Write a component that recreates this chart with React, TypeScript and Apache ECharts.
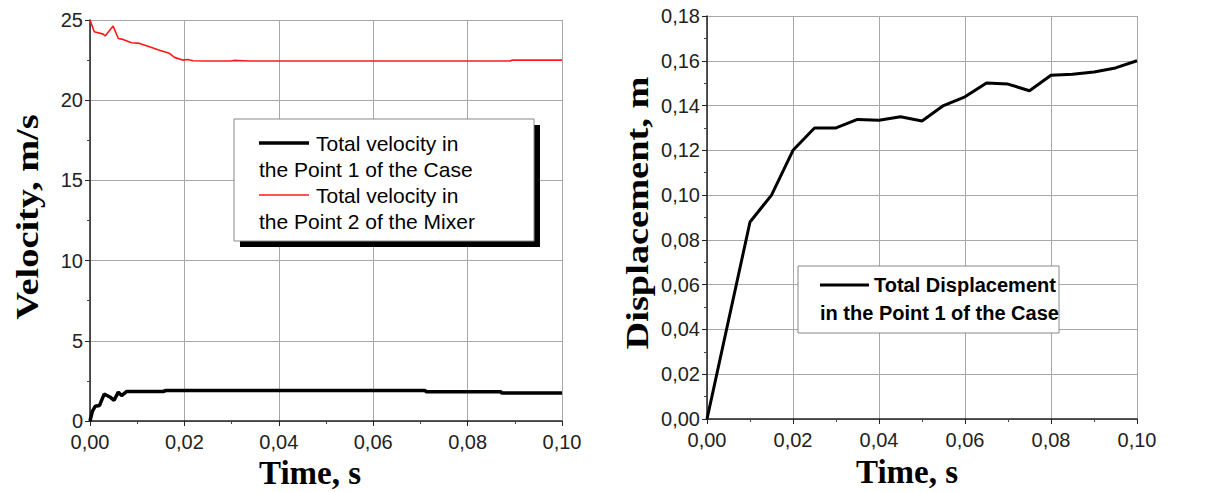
import React, { useEffect, useRef } from "react";
import * as echarts from "echarts";

// Left chart: Total velocity in the Point 1 of the Case (black)
const p1Time = [0, 0.0005, 0.0011, 0.002, 0.003, 0.0042, 0.0051, 0.006, 0.0067, 0.0078, 0.0155, 0.0161, 0.071, 0.0712, 0.087, 0.0872, 0.1];
const p1Vel = [0, 0.6, 0.92, 0.96, 1.68, 1.5, 1.29, 1.8, 1.58, 1.84, 1.84, 1.9, 1.9, 1.83, 1.83, 1.75, 1.75];

// Left chart: Total velocity in the Point 2 of the Mixer (red)
const p2Time = [0, 0.0009, 0.0028, 0.0032, 0.0049, 0.006, 0.007, 0.0088, 0.0105, 0.0126, 0.0147, 0.0168, 0.0179, 0.0196, 0.0207, 0.0218, 0.024, 0.0298, 0.0305, 0.0335, 0.034, 0.089, 0.0895, 0.1];
const p2Vel = [25, 24.27, 24.12, 24.0, 24.62, 23.85, 23.79, 23.58, 23.54, 23.33, 23.12, 22.92, 22.67, 22.5, 22.54, 22.46, 22.44, 22.44, 22.48, 22.44, 22.44, 22.44, 22.5, 22.5];

// Right chart: Total Displacement in the Point 1 of the Case
const dispTime = [0, 0.01, 0.015, 0.02, 0.025, 0.03, 0.035, 0.04, 0.045, 0.05, 0.055, 0.06, 0.065, 0.07, 0.075, 0.08, 0.085, 0.09, 0.095, 0.1];
const dispVal = [0, 0.088, 0.1, 0.12, 0.13, 0.13, 0.1338, 0.1334, 0.135, 0.1331, 0.14, 0.1439, 0.1501, 0.1496, 0.1466, 0.1535, 0.154, 0.155, 0.1568, 0.16];

const timeTicks = { min: 0, max: 0.1, interval: 0.02 };
const velTicks = { min: 0, max: 25, interval: 5 };
const dispTicks = { min: 0, max: 0.18, interval: 0.02 };

const legendVel = ["Total velocity in", "the Point 1 of the Case", "Total velocity in", "the Point 2 of the Mixer"];
const legendDisp = ["Total Displacement", "in the Point 1 of the Case"];

const pairs = (xs: number[], ys: number[]) => xs.map((x, i) => [x, ys[i]]);
const comma2 = (v: number) => v.toFixed(2).replace(".", ",");

const labelFont = "Liberation Sans";
const gridColor = "#a8a8a8";

function makeXAxis(gridIndex: number) {
  return {
    type: "value",
    gridIndex,
    ...timeTicks,
    axisLine: { show: true, onZero: false, lineStyle: { color: "#222", width: 1.5 } },
    axisTick: { show: true, length: 5, lineStyle: { color: "#222" } },
    minorTick: { show: true, splitNumber: 2, length: 3, lineStyle: { color: "#444" } },
    splitLine: { show: true, lineStyle: { color: gridColor, width: 1 } },
    axisLabel: { formatter: comma2, fontFamily: labelFont, fontSize: 20, color: "#222", margin: 11 },
  };
}

function makeYAxis(gridIndex: number, ticks: any, fmt: (v: number) => string) {
  return {
    type: "value",
    gridIndex,
    ...ticks,
    axisLine: { show: true, onZero: false, lineStyle: { color: "#222", width: 1.5 } },
    axisTick: { show: true, length: 5, lineStyle: { color: "#222" } },
    minorTick: { show: true, splitNumber: 2, length: 3, lineStyle: { color: "#444" } },
    splitLine: { show: true, lineStyle: { color: gridColor, width: 1 } },
    axisLabel: { formatter: fmt, fontFamily: labelFont, fontSize: 20, color: "#222", margin: 7 },
  };
}

function vText(text: string, x: number, y: number) {
  return {
    type: "text",
    z: 100,
    x,
    y,
    rotation: Math.PI / 2,
    scaleX: 1.2,
    style: {
      text,
      font: 'bold 32px "Liberation Serif"',
      fill: "#000",
      align: "center",
      verticalAlign: "middle",
      textAlign: "center",
      textVerticalAlign: "middle",
    },
  };
}

function hText(text: string, x: number, y: number, font: string, align = "left", lineHeight?: number) {
  return {
    type: "text",
    z: 100,
    x,
    y,
    style: {
      text,
      font,
      fill: "#000",
      align,
      verticalAlign: "middle",
      textAlign: align,
      textVerticalAlign: "middle",
      ...(lineHeight ? { lineHeight } : {}),
    },
  };
}

export default function App() {
  const ref = useRef<HTMLDivElement>(null);
  useEffect(() => {
    if (!ref.current) return;
    const chart = echarts.init(ref.current, undefined, { renderer: "svg" });
    const legFont = '21px "Liberation Sans"';
    const legFontB = 'bold 20px "Liberation Sans"';
    chart.setOption({
      animation: false,
      backgroundColor: "#fff",
      grid: [
        { left: 90, top: 20, width: 472, height: 401 },
        { left: 707, top: 16, width: 430, height: 403 },
      ],
      xAxis: [makeXAxis(0), makeXAxis(1)],
      yAxis: [
        makeYAxis(0, velTicks, (v: number) => String(v)),
        makeYAxis(1, dispTicks, comma2),
      ],
      series: [
        {
          type: "line",
          name: "Point 2 of the Mixer",
          xAxisIndex: 0,
          yAxisIndex: 0,
          data: pairs(p2Time, p2Vel),
          showSymbol: false,
          lineStyle: { color: "#ff1a1a", width: 1.6 },
        },
        {
          type: "line",
          name: "Point 1 of the Case",
          xAxisIndex: 0,
          yAxisIndex: 0,
          data: pairs(p1Time, p1Vel),
          showSymbol: false,
          lineStyle: { color: "#000", width: 3.5 },
        },
        {
          type: "line",
          name: "Total Displacement",
          xAxisIndex: 1,
          yAxisIndex: 1,
          data: pairs(dispTime, dispVal),
          showSymbol: false,
          lineStyle: { color: "#000", width: 3 },
        },
      ],
      graphic: [
        vText("Velocity, m/s", 28, 217),
        vText("Displacement, m", 638, 213),
        hText("Time, s", 310, 473, 'bold 33px "Liberation Serif"', "center", 28),
        hText("Time, s", 907, 472, 'bold 33px "Liberation Serif"', "center", 28),
        // left legend
        { type: "rect", z: 100, shape: { x: 240, y: 125, width: 300, height: 122 }, style: { fill: "#000" } },
        { type: "rect", z: 101, shape: { x: 234, y: 119, width: 300, height: 122 }, style: { fill: "#fff", stroke: "#888", lineWidth: 1 } },
        { type: "line", z: 102, shape: { x1: 259, y1: 143, x2: 309, y2: 143 }, style: { stroke: "#000", lineWidth: 3.5 } },
        { type: "line", z: 102, shape: { x1: 259, y1: 195, x2: 309, y2: 195 }, style: { stroke: "#ff1a1a", lineWidth: 1.6 } },
        { ...hText(legendVel[0], 316, 143, legFont), z: 102 },
        { ...hText(legendVel[1], 259, 169, legFont), z: 102 },
        { ...hText(legendVel[2], 316, 195, legFont), z: 102 },
        { ...hText(legendVel[3], 259, 221, legFont), z: 102 },
        // right legend
        { type: "rect", z: 101, shape: { x: 798, y: 266, width: 261, height: 67 }, style: { fill: "#fff", stroke: "#888", lineWidth: 1 } },
        { type: "line", z: 102, shape: { x1: 820, y1: 285, x2: 869, y2: 285 }, style: { stroke: "#000", lineWidth: 3 } },
        { ...hText(legendDisp[0], 874, 285, legFontB), z: 102 },
        { ...hText(legendDisp[1], 820, 313, legFontB), z: 102 },
      ],
    });
    return () => chart.dispose();
  }, []);
  return (
    <div
      ref={ref}
      style={{ position: "fixed", left: 0, top: 0, width: 1217, height: 492, background: "#fff" }}
    />
  );
}
